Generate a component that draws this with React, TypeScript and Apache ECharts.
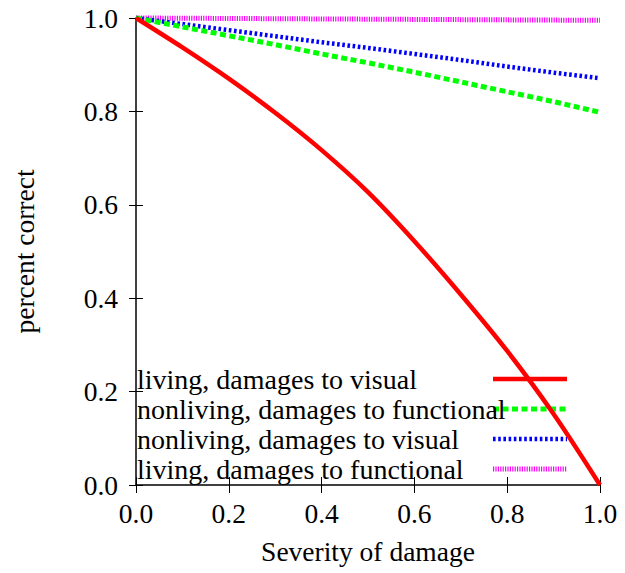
import React, { useEffect, useRef } from "react";
import * as echarts from "echarts";

const severity = [0, 0.1, 0.2, 0.3, 0.4, 0.5, 0.6, 0.7, 0.8, 0.9, 1.0];
const livingVisual = [1.0, 0.937, 0.87, 0.797, 0.717, 0.627, 0.522, 0.408, 0.287, 0.152, 0.0];
const nonlivingFunctional = [1.0, 0.981, 0.962, 0.943, 0.923, 0.904, 0.884, 0.863, 0.842, 0.821, 0.798];
const nonlivingVisual = [1.0, 0.987, 0.974, 0.961, 0.948, 0.936, 0.923, 0.910, 0.896, 0.883, 0.871];
const livingFunctional = [1.0, 0.9995, 0.999, 0.9985, 0.998, 0.9975, 0.997, 0.9965, 0.996, 0.9955, 0.995];
const xTicks = ["0.0", "0.2", "0.4", "0.6", "0.8", "1.0"];

const seriesNames = [
  "living, damages to visual",
  "nonliving, damages to functional",
  "nonliving, damages to visual",
  "living, damages to functional",
];
const seriesValues = [livingVisual, nonlivingFunctional, nonlivingVisual, livingFunctional];
const seriesColors = ["#ff0000", "#00ff00", "#0000ff", "#ff00ff"];
const seriesDash: any[] = ["solid", [6, 3.5], [2.6, 2.6], [1.2, 1.2]];
const seriesWidth = [4.5, 5, 4.5, 5];

const FONT = "Liberation Serif";

export default function App() {
  const ref = useRef<HTMLDivElement>(null);
  useEffect(() => {
    if (!ref.current) return;
    const chart = echarts.init(ref.current, null, { renderer: "svg" });
    const fmt = (v: number) => v.toFixed(1);
    const option: any = {
      animation: false,
      backgroundColor: "#ffffff",
      grid: { left: 136, right: 25, top: 18, bottom: 88, containLabel: false },
      legend: {
        orient: "vertical",
        left: 137,
        top: 365,
        padding: 0,
        align: "right",
        itemWidth: 74,
        itemHeight: 14,
        itemGap: 2,
        selectedMode: false,
        data: seriesNames,
        itemStyle: { color: "transparent", borderWidth: 0, opacity: 0 },
        lineStyle: { width: "inherit", type: "inherit", color: "inherit" },
        formatter: "{t|{name}}",
        textStyle: {
          rich: {
            t: {
              width: 351,
              align: "left",
              fontSize: 28,
              lineHeight: 26,
              fontFamily: FONT,
              color: "#000",
            },
          },
        },
      },
      xAxis: [
        {
          type: "value",
          min: 0,
          max: 1,
          interval: 0.2,
          name: "Severity of damage",
          nameLocation: "middle",
          nameGap: 52,
          nameTextStyle: { fontFamily: FONT, fontSize: 27.5, color: "#000" },
          axisLine: { show: true, lineStyle: { color: "#000", width: 1.5 } },
          axisTick: { show: true, inside: true, length: 8, lineStyle: { color: "#000", width: 1 } },
          axisLabel: {
            margin: 14,
            fontFamily: FONT,
            fontSize: 27.5,
            color: "#000",
            formatter: (v: number) => xTicks[Math.round(v / 0.2)] ?? fmt(v),
          },
          splitLine: { show: false },
        },
        {
          type: "value",
          position: "top",
          min: 0,
          max: 1,
          interval: 0.2,
          axisLine: { show: false },
          axisTick: { show: true, inside: true, length: 8, lineStyle: { color: "#000", width: 1 } },
          axisLabel: { show: false },
          splitLine: { show: false },
        },
      ],
      yAxis: [
        {
          type: "value",
          min: 0,
          max: 1,
          interval: 0.2,
          name: "percent correct",
          nameLocation: "middle",
          nameGap: 98,
          nameTextStyle: { fontFamily: FONT, fontSize: 27.5, color: "#000" },
          axisLine: { show: true, lineStyle: { color: "#000", width: 1.5 } },
          axisTick: { show: true, inside: true, length: 7, lineStyle: { color: "#000", width: 1 } },
          axisLabel: { margin: 18, fontFamily: FONT, fontSize: 27.5, color: "#000", formatter: fmt },
          splitLine: { show: false },
        },
        {
          type: "value",
          position: "right",
          min: 0,
          max: 1,
          interval: 0.2,
          axisLine: { show: false },
          axisTick: { show: true, inside: true, length: 7, lineStyle: { color: "#000", width: 1 } },
          axisLabel: { show: false },
          splitLine: { show: false },
        },
      ],
      series: seriesNames.map((name, i) => ({
        name,
        type: "line",
        xAxisIndex: 0,
        yAxisIndex: 0,
        data: severity.map((x, j) => [x, seriesValues[i][j]]),
        smooth: i === 0 ? 0.3 : false,
        symbol: "none",
        showSymbol: false,
        clip: false,
        color: seriesColors[i],
        lineStyle: { color: seriesColors[i], width: seriesWidth[i], type: seriesDash[i] },
        z: 10 - i,
      })),
    };
    chart.setOption(option);
    return () => chart.dispose();
  }, []);
  return (
    <div
      ref={ref}
      style={{ position: "fixed", left: 0, top: 0, width: 625, height: 573 }}
    />
  );
}
